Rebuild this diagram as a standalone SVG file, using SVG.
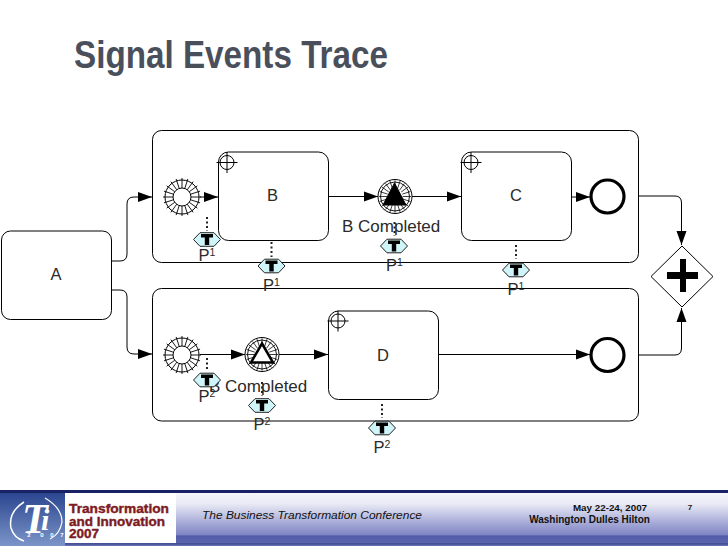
<svg xmlns="http://www.w3.org/2000/svg" width="728" height="546" viewBox="0 0 728 546">
<style>
.l{fill:none;stroke:#000;stroke-width:1}
.w{fill:#fff;stroke:#000;stroke-width:1}
.t{font-family:"Liberation Sans",Arial,sans-serif;font-size:17px;fill:#2a2a2a}
.p{font-family:"Liberation Sans",Arial,sans-serif;font-size:16.500px;fill:#2a2a2a;text-anchor:middle}
.s{font-size:10.500px}
.d{fill:none;stroke:#222;stroke-width:2;stroke-dasharray:2 2.500}
.h{fill:#cff5f8;stroke:#222;stroke-width:1}
.lg{font-family:"Liberation Sans",Arial,sans-serif;font-size:13px;font-weight:bold;fill:#7d1a22;stroke:#7d1a22;stroke-width:.4}
.ft{font-family:"Liberation Sans",Arial,sans-serif;font-weight:bold;fill:#111;text-anchor:middle}
.yr{font-family:"Liberation Sans",Arial,sans-serif;font-size:6px;font-weight:bold;fill:#fff;text-anchor:middle}
</style>
<defs>
<marker id="a" markerUnits="userSpaceOnUse" markerWidth="15" markerHeight="11" refX="14" refY="5.500" orient="auto"><path d="M0 .5L14 5.500L0 10.500Z" fill="#000"/></marker>
<path id="q" fill="none" stroke="#000" stroke-width=".9" d="M9 0H19M8.560 2.780L18.070 5.870M7.280 5.290L15.370 11.170M5.290 7.280L11.170 15.370M2.780 8.560L5.870 18.070"/>
<g id="rays"><use href="#q"/><use href="#q" transform="rotate(90)"/><use href="#q" transform="rotate(180)"/><use href="#q" transform="rotate(270)"/></g>
<g id="start"><circle r="17" fill="#fff" stroke="#000" stroke-width="1"/><use href="#rays"/><circle r="9" fill="#fff" stroke="#000"/></g>
<g id="mid"><circle r="17" fill="#fff" stroke="#000" stroke-width="1"/><circle r="14.500" fill="none" stroke="#000" stroke-width=".9"/><use href="#rays" transform="scale(.85)"/></g>
<g id="target" fill="none" stroke="#000" stroke-width="1"><circle r="7"/><path d="M-10.500 0H10.500M0-10.500V10.500"/></g>
<g id="tok"><path class="h" d="M-13.500 0L-7-6.800H7L13.500 0L7 6.800H-7Z"/><path d="M-6-5.500H6V-2H2.200V5.500H-2.200V-2H-6Z" fill="#000"/></g>
<linearGradient id="f" x1="0" y1="0" x2="0" y2="1"><stop offset="0" stop-color="#fafafd"/><stop offset=".25" stop-color="#e8e9f4"/><stop offset=".6" stop-color="#a4a8d6"/><stop offset=".8" stop-color="#7f85c4"/><stop offset=".82" stop-color="#525ca8"/><stop offset=".94" stop-color="#5a64ae"/><stop offset=".96" stop-color="#3f4a90"/><stop offset="1" stop-color="#6f78ba"/></linearGradient>
<linearGradient id="b" x1="0" y1="0" x2="0" y2="1"><stop offset="0" stop-color="#2b4690"/><stop offset="1" stop-color="#7c95c8"/></linearGradient>
</defs>
<rect width="728" height="546" fill="#fff"/>
<text x="74" y="68" font-family="'Liberation Sans',Arial,sans-serif" font-size="38" font-weight="bold" fill="#4a4f5c" textLength="314" lengthAdjust="spacingAndGlyphs">Signal Events Trace</text>

<g id="connectors">
<path class="l" marker-end="url(#a)" d="M112 261H120Q127 261 127 254V204Q127 197 134 197H152"/>
<path class="l" marker-end="url(#a)" d="M112 290H120Q127 290 127 297V347Q127 354 134 354H152"/>
<path class="l" marker-end="url(#a)" d="M200 197H218"/>
<path class="l" marker-end="url(#a)" d="M328 196.500H378"/>
<path class="l" marker-end="url(#a)" d="M412 196.500H461"/>
<path class="l" marker-end="url(#a)" d="M572 197H590"/>
<path class="l" marker-end="url(#a)" d="M200 354.500H245"/>
<path class="l" marker-end="url(#a)" d="M279 354.500H328"/>
<path class="l" marker-end="url(#a)" d="M439 354.500H590"/>
<path class="l" marker-end="url(#a)" d="M639 196H675Q681.500 196 681.500 203V245"/>
<path class="l" marker-end="url(#a)" d="M639 355H675Q681.500 355 681.500 348V308"/>
</g>

<g id="pool1"><rect class="l" x="152.500" y="130.500" width="486" height="132" rx="9"/></g>
<g id="pool2"><rect class="l" x="152.500" y="288.500" width="486" height="132.500" rx="9"/></g>
<g id="A"><rect class="w" x="1.500" y="231" width="110" height="88.500" rx="9"/><text class="p" x="56" y="280">A</text></g>

<g id="B"><rect class="w" x="218.500" y="152" width="110" height="88.500" rx="10"/><use href="#target" x="227" y="162.500"/><text class="p" x="272.500" y="201">B</text></g>
<g id="C"><rect class="w" x="461.500" y="152" width="110" height="88.500" rx="10"/><use href="#target" x="471" y="162.500"/><text class="p" x="516" y="201">C</text></g>
<g id="D"><rect class="w" x="328.500" y="311" width="110" height="88.500" rx="10"/><use href="#target" x="338" y="321"/><text class="p" x="383" y="361">D</text></g>

<g id="start1"><use href="#start" x="182" y="197"/></g>
<g id="start2"><use href="#start" x="182" y="355"/></g>
<g id="signal1"><use href="#mid" x="395" y="196.500"/><path d="M394.500 183L406 205H383Z" fill="#000" stroke="#000"/></g>
<g id="signal2"><use href="#mid" x="262" y="354.500"/><path d="M262 343.500L273 362.500H251Z" fill="#fff" stroke="#000" stroke-width="2.500"/></g>
<g id="end1"><circle cx="607.500" cy="196.500" r="16.500" fill="#fff" stroke="#000" stroke-width="3.200"/></g>
<g id="end2"><circle cx="607.500" cy="355" r="16.500" fill="#fff" stroke="#000" stroke-width="3.200"/></g>
<g id="gateway"><path class="w" d="M682 246L713 276.500L682 307L651 276.500Z"/><path d="M680 259H686V272H698V279H686V292H680V279H667V272H680Z" fill="#000"/></g>

<text class="t" x="342" y="232">B Completed</text>
<text class="t" x="209" y="392">B Completed</text>

<g id="tok1"><path class="d" d="M207 217V231"/><use href="#tok" x="207" y="239.500"/><text class="p" x="207" y="260.500">P<tspan class="s" dy="-5">1</tspan></text></g>
<g id="tok2"><path class="d" d="M271.500 242V257"/><use href="#tok" x="271.500" y="266"/><text class="p" x="271.500" y="290.500">P<tspan class="s" dy="-5">1</tspan></text></g>
<g id="tok3"><path class="d" d="M394.500 222V236"/><use href="#tok" x="394" y="246"/><text class="p" x="394.500" y="270.500">P<tspan class="s" dy="-5">1</tspan></text></g>
<g id="tok4"><path class="d" d="M516 245V259"/><use href="#tok" x="516" y="270"/><text class="p" x="516" y="295">P<tspan class="s" dy="-5">1</tspan></text></g>
<g id="tok5"><path class="d" d="M207 358V371"/><use href="#tok" x="207" y="380"/><text class="p" x="207" y="402">P<tspan class="s" dy="-5">2</tspan></text></g>
<g id="tok6"><path class="d" d="M262 382V396"/><use href="#tok" x="262" y="405.500"/><text class="p" x="262" y="430">P<tspan class="s" dy="-5">2</tspan></text></g>
<g id="tok7"><path class="d" d="M382 404V418"/><use href="#tok" x="382" y="428"/><text class="p" x="382" y="452.500">P<tspan class="s" dy="-5">2</tspan></text></g>

<g id="footer">
<rect y="490" width="728" height="56" fill="url(#f)"/>
<rect y="490" width="728" height="3" fill="#1a2266"/>
<rect y="493" width="65" height="53" fill="url(#b)"/>
<rect x="65" y="493" width="111" height="50" fill="#fff"/>
<text class="lg" x="69" y="513" textLength="100" lengthAdjust="spacingAndGlyphs">Transformation</text>
<text class="lg" x="69" y="526" textLength="96" lengthAdjust="spacingAndGlyphs">and Innovation</text>
<text class="lg" x="69" y="538" textLength="30" lengthAdjust="spacingAndGlyphs">2007</text>
<path d="M24 502Q8 512 11 528Q14 538 24 541" fill="none" stroke="#fff" stroke-width="1.500"/>
<path d="M45 498Q62 508 62 522Q60 534 50 539" fill="none" stroke="#fff" stroke-width="1.200"/>
<text x="22" y="533" font-family="'Liberation Serif',serif" font-size="42" font-weight="bold" font-style="italic" fill="#fff">T</text>
<text x="41" y="530" font-family="'Liberation Serif',serif" font-size="30" font-weight="bold" font-style="italic" fill="#fff">i</text>
<text class="yr" x="29" y="537">2</text><text class="yr" x="42" y="537">0</text><text class="yr" x="52" y="537">0</text><text class="yr" x="62" y="537">7</text>
<text x="202" y="519" font-family="'Liberation Sans',Arial,sans-serif" font-size="11.500" font-style="italic" fill="#111" textLength="220" lengthAdjust="spacingAndGlyphs">The Business Transformation Conference</text>
<text class="ft" x="610" y="511" font-size="9.800">May 22-24, 2007</text>
<text class="ft" x="589.500" y="523" font-size="10">Washington Dulles Hilton</text>
<text class="ft" x="690" y="510" font-size="8">7</text>
</g>
</svg>
